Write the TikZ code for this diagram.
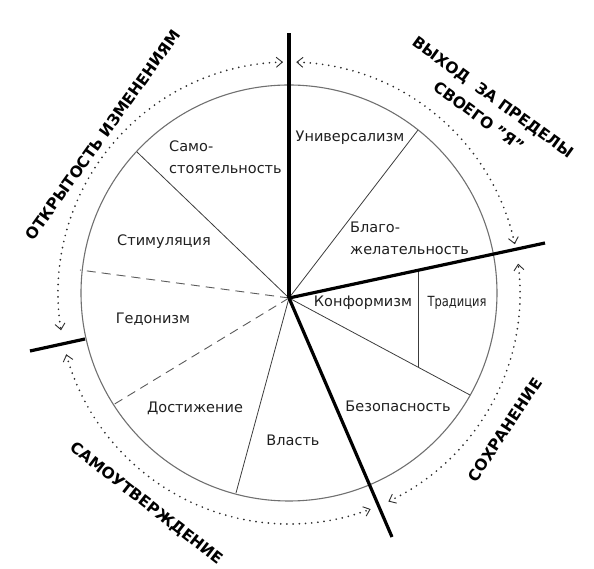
\documentclass[tikz,border=0pt]{standalone}
\usepackage{fontspec}
\setmainfont{DejaVu Sans}
\newfontfamily\narrowfont[FakeStretch=0.82]{DejaVu Sans}
\usepackage{xcolor}
\definecolor{rimgray}{HTML}{707070}
\definecolor{spokegray}{HTML}{3C3C3C}
\definecolor{dashgray}{HTML}{5A5A5A}
\definecolor{dotgray}{HTML}{2E2E2E}
\usetikzlibrary{
  arrows.meta
}

\begin{document}
\begin{tikzpicture}[
  x=1pt, y=1pt,
  every node/.style={
    font=\fontsize{14.5}{22}\selectfont,
    inner sep=0pt,
    text=black!88
  },
  rim/.style={draw=rimgray, line width=1.1pt},
  spoke/.style={draw=spokegray, line width=0.8pt},
  dashspoke/.style={draw=dashgray, line width=0.9pt, dash pattern=on 9pt off 6pt},
  axis/.style={draw=black, line width=3.2pt},
  dotarc/.style={
    draw=dotgray,
    line width=1.9pt,
    line cap=round,
    dash pattern=on 0pt off 6.2pt,
    {Straight Barb[length=6pt,width=10pt,line width=0.9pt]}-{Straight Barb[length=6pt,width=10pt,line width=0.9pt]}
  },
  group/.style={
    font=\fontsize{15.5}{24}\bfseries\selectfont,
    align=center,
    text=black
  }
]
\useasboundingbox (-289,-276) rectangle (305,293);

% Centres
\coordinate (C) at (0,0);
\coordinate (O) at (0,-5);

% Circle
\draw[rim] (C) circle[radius=208];

% Points on the circle
\coordinate (samo)  at (-152,141);
\coordinate (stim)  at (-209,23);
\coordinate (gedo)  at (-176,-112);
\coordinate (dost)  at (-53,-200);
\coordinate (bezo)  at (181,-102);
\coordinate (univ)  at (129,163);
\coordinate (trtop) at (129,22.7);
\coordinate (trbot) at (129,-74);

% Thin sector lines
\draw[spoke] (O) -- (samo);
\draw[dashspoke] (O) -- (stim);
\draw[dashspoke] (O) -- (gedo);
\draw[spoke] (O) -- (dost);
\draw[spoke] (O) -- (bezo);
\draw[spoke] (O) -- (univ);
\draw[spoke] (trtop) -- (trbot);

% Thick axes
\coordinate (axtop)   at (0,260);
\coordinate (axright) at (256,50);
\coordinate (axdown)  at (103,-244);
\coordinate (axleftA) at (-204,-46);
\coordinate (axleftB) at (-259,-58);
\draw[axis] (O) -- (axtop);
\draw[axis] (O) -- (axright);
\draw[axis] (O) -- (axdown);
\draw[axis] (axleftA) -- (axleftB);

% Dotted arcs
\draw[dotarc] (C) ++(91.5:231) arc[start angle=91.5, end angle=189.3, radius=231];
\draw[dotarc] (C) ++(12.2:231) arc[start angle=12.2, end angle=88.2, radius=231];
\draw[dotarc] (C) ++(-64.5:231) arc[start angle=-64.5, end angle=7.3, radius=231];
\draw[dotarc] (C) ++(195.4:231) arc[start angle=195.4, end angle=290.7, radius=231];

% Values
\node[anchor=west, align=left] (samost) at (-120,136) {Само-\\стоятельность};
\node (univers) at (61,155) {Универсализм};
\node[anchor=west, align=left] (blago) at (61,55) {Благо-\\желательность};
\node (stimul) at (-125,51) {Стимуляция};
\node (gedon) at (-136,-26) {Гедонизм};
\node (dostiz) at (-94,-115) {Достижение};
\node (vlast) at (4,-147) {Власть};
\node (bezop) at (109,-113) {Безопасность};
\node (konform) at (74,-10) {Конформизм};
\node[font=\fontsize{14}{22}\narrowfont] (tradic) at (168,-10) {Традиция};

% Groups
\node[group, rotate=54.4] (open) at (-186,158) {ОТКРЫТОСТЬ ИЗМЕНЕНИЯМ};
\node[group, rotate=-36] (self) at (197,186) {ВЫХОД\ \ ЗА ПРЕДЕЛЫ\\СВОЕГО "Я"};
\node[group, rotate=-37.8] (enhance) at (-143,-211) {САМОУТВЕРЖДЕНИЕ};
\node[group, rotate=56.4] (conserv) at (216,-137) {СОХРАНЕНИЕ};

\end{tikzpicture}
\end{document}
